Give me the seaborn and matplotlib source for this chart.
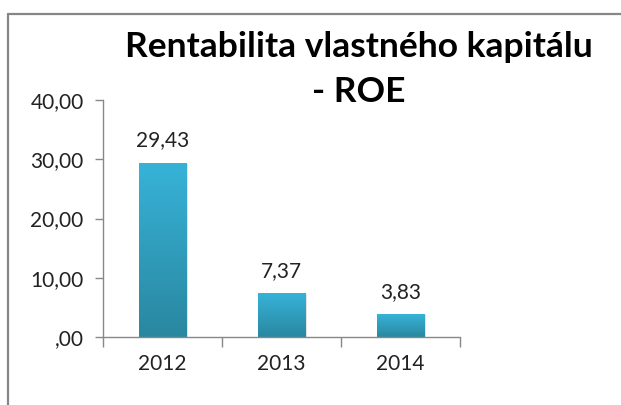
import numpy as np
import pandas as pd
import matplotlib
matplotlib.use("Agg")
import matplotlib.pyplot as plt
import seaborn as sns
from matplotlib.colors import LinearSegmentedColormap
from matplotlib.lines import Line2D

years = ["2012", "2013", "2014"]
roe = [29.43, 7.37, 3.83]
value_labels = ["29,43", "7,37", "3,83"]
yticks = [0, 10, 20, 30, 40]
ytick_labels = [",00", "10,00", "20,00", "30,00", "40,00"]
title_line1 = "Rentabilita vlastného kapitálu"
title_line2 = "- ROE"

sns.set_style("white")
plt.rcParams["font.family"] = ["Lato", "DejaVu Sans"]

fig = plt.figure(figsize=(6.21, 4.05), dpi=100)
ax = fig.add_axes([103/621, 1-337/405, (460-103)/621, (337-100)/405])

df = pd.DataFrame({"year": years, "roe": roe})
sns.barplot(data=df, x="year", y="roe", ax=ax, color="#31a3c4", width=0.4, saturation=1)

cmap = LinearSegmentedColormap.from_list("g", ["#2a87a0", "#37b3d8"])
grad = np.linspace(0, 1, 256).reshape(-1, 1)
for p in list(ax.patches):
    x0, y0, w, h = p.get_x(), p.get_y(), p.get_width(), p.get_height()
    sh = plt.Rectangle((x0 + 0.015, y0), w, h - 0.15, color="#bbbbbb", alpha=0.5, zorder=1.5, lw=0)
    ax.add_patch(sh)
    im = ax.imshow(grad, extent=[x0, x0 + w, y0, y0 + h], origin="lower", aspect="auto",
                   cmap=cmap, zorder=2)
    im.set_clip_path(p)
    p.set_zorder(2)
for i, (v, lab) in enumerate(zip(roe, value_labels)):
    ax.text(i, v + 2.1, lab, ha="center", va="bottom", fontsize=15, color="#222222")
ax.set_ylim(0, 40)
ax.set_xlim(-0.5, len(years) - 0.5)

ax.set_yticks(yticks)
ax.set_yticklabels(ytick_labels)
ax.set_xticks([-0.5, 0.5, 1.5, 2.5], minor=False)
ax.set_xticklabels([])
ax.set_xticks([0, 1, 2], minor=True)
ax.set_xticklabels(years, minor=True)
ax.tick_params(axis="x", which="minor", bottom=True, length=0, pad=12, labelsize=15, labelcolor="#222222")
ax.tick_params(axis="x", which="major", bottom=True, length=7, width=1, color="#888888", direction="out")
ax.tick_params(axis="y", left=True, length=6, width=1, color="#888888", direction="out", pad=8,
               labelsize=15, labelcolor="#222222")
ax.set_xlabel("")
ax.set_ylabel("")
for s in ["top", "right"]:
    ax.spines[s].set_visible(False)
for s in ["left", "bottom"]:
    ax.spines[s].set_color("#888888")
    ax.spines[s].set_linewidth(1)

fig.text(359/621, 1-47/405, title_line1, ha="center", va="center", fontsize=25.5, fontweight="bold",
         color="#000000")
fig.text(359/621, 1-92/405, title_line2, ha="center", va="center", fontsize=25.5, fontweight="bold",
         color="#000000")

fig.add_artist(Line2D([8/621, 8/621], [0, 1-14/405], color="#868686", lw=1.6, transform=fig.transFigure))
fig.add_artist(Line2D([8/621, 1], [1-14/405, 1-14/405], color="#868686", lw=1.6, transform=fig.transFigure))

fig.savefig("out.png", dpi=100)
